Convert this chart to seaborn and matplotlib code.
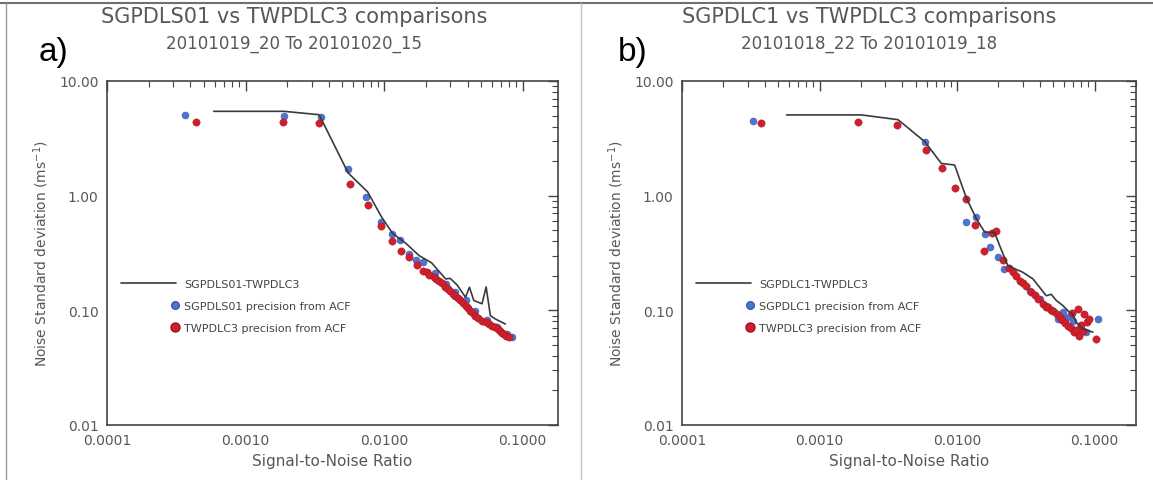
import numpy as np
import pandas as pd
import matplotlib
matplotlib.use("Agg")
import matplotlib.pyplot as plt
from matplotlib.lines import Line2D
from matplotlib.legend_handler import HandlerLine2D
from matplotlib.ticker import LogLocator, NullFormatter, FixedLocator, FixedFormatter
import seaborn as sns

# ---------------- data ----------------
# Panel a) SGPDLS01 vs TWPDLC3
a_line_x = [0.00059, 0.0019, 0.0034, 0.0055, 0.0076, 0.0096, 0.0115, 0.0145, 0.0179, 0.022,
            0.0278, 0.030, 0.0337, 0.0387, 0.0413, 0.0444, 0.0509, 0.0545, 0.0585, 0.0636, 0.075]
a_line_y = [5.44, 5.44, 5.08, 1.58, 1.08, 0.65, 0.47, 0.38, 0.30, 0.26,
            0.188, 0.19, 0.166, 0.130, 0.159, 0.122, 0.114, 0.16, 0.090, 0.084, 0.076]
a_blue_x = [0.000364, 0.0019, 0.0035, 0.00553, 0.00738, 0.00946, 0.0115, 0.0130, 0.0151, 0.0171,
            0.0192, 0.0235, 0.028, 0.0325, 0.0387, 0.045, 0.055, 0.065, 0.077, 0.0837]
a_blue_y = [5.06, 4.99, 4.89, 1.71, 0.98, 0.59, 0.46, 0.41, 0.31, 0.275,
            0.263, 0.21, 0.17, 0.145, 0.122, 0.098, 0.082, 0.072, 0.062, 0.058]
a_red_x = [0.000441, 0.00185, 0.0034, 0.00566, 0.00767, 0.00946, 0.0114, 0.0132, 0.0151, 0.0174,
           0.019, 0.0205, 0.021, 0.0229, 0.0238, 0.0249, 0.026, 0.0277, 0.0288, 0.030, 0.0315,
           0.0327, 0.034, 0.0356, 0.037, 0.0387, 0.040, 0.042, 0.0435, 0.0456, 0.048, 0.0509,
           0.054, 0.0569, 0.060, 0.0636, 0.066, 0.069, 0.071, 0.073, 0.076, 0.080]
a_red_y = [4.41, 4.36, 4.28, 1.26, 0.835, 0.54, 0.40, 0.33, 0.294, 0.249,
           0.222, 0.215, 0.205, 0.194, 0.188, 0.182, 0.172, 0.159, 0.152, 0.148, 0.140,
           0.134, 0.128, 0.122, 0.115, 0.109, 0.104, 0.0995, 0.095, 0.090, 0.086, 0.0813,
           0.079, 0.076, 0.073, 0.071, 0.069, 0.0666, 0.064, 0.062, 0.060, 0.059]

# Panel b) SGPDLC1 vs TWPDLC3
b_line_x = [0.000576, 0.00202, 0.00372, 0.00582, 0.00769, 0.0096, 0.0117, 0.0138, 0.0159, 0.0187,
            0.0204, 0.0234, 0.030, 0.0356, 0.0398, 0.0445, 0.0484, 0.0526, 0.0588, 0.0658,
            0.0695, 0.0735, 0.082, 0.0972]
b_line_y = [5.06, 5.06, 4.6, 2.96, 1.91, 1.85, 0.95, 0.63, 0.48, 0.48,
            0.367, 0.245, 0.215, 0.188, 0.159, 0.134, 0.138, 0.122, 0.110, 0.096,
            0.092, 0.0787, 0.0689, 0.0646]
b_blue_x = [0.000326, 0.00582, 0.0117, 0.0138, 0.0159, 0.0175, 0.0198, 0.0221, 0.0337, 0.040,
            0.0445, 0.050, 0.054, 0.0588, 0.062, 0.0658, 0.070, 0.078, 0.0869, 0.1057]
b_blue_y = [4.5, 2.93, 0.59, 0.65, 0.46, 0.355, 0.29, 0.229, 0.148, 0.125,
            0.110, 0.098, 0.084, 0.096, 0.085, 0.090, 0.080, 0.070, 0.0646, 0.084]
b_red_x = [0.000375, 0.0019, 0.00366, 0.0059, 0.00776, 0.0096, 0.0117, 0.0136, 0.0156, 0.0178,
           0.0193, 0.0216, 0.024, 0.0255, 0.027, 0.0285, 0.030, 0.0319, 0.0347, 0.037, 0.0389,
           0.0423, 0.044, 0.0459, 0.048, 0.050, 0.053, 0.0556, 0.058, 0.061, 0.0638, 0.067,
           0.069, 0.0714, 0.073, 0.0755, 0.0776, 0.080, 0.082, 0.0843, 0.088, 0.0918, 0.1028]
b_red_y = [4.31, 4.36, 4.13, 2.50, 1.75, 1.16, 0.935, 0.55, 0.33, 0.47,
           0.49, 0.275, 0.235, 0.215, 0.20, 0.182, 0.172, 0.164, 0.1435, 0.135, 0.1255,
           0.114, 0.108, 0.106, 0.100, 0.0995, 0.092, 0.087, 0.082, 0.078, 0.0736, 0.070,
           0.095, 0.0646, 0.068, 0.103, 0.060, 0.075, 0.066, 0.093, 0.079, 0.084, 0.056]

x_ticks = [0.0001, 0.001, 0.01, 0.1]
x_tick_labels = ["0.0001", "0.0010", "0.0100", "0.1000"]
y_ticks = [0.01, 0.1, 1.0, 10.0]
y_tick_labels = ["0.01", "0.10", "1.00", "10.00"]

panels = [
    dict(tag="a)", title="SGPDLS01 vs TWPDLC3 comparisons", sub="20101019_20 To 20101020_15",
         lx=a_line_x, ly=a_line_y, bx=a_blue_x, by=a_blue_y, rx=a_red_x, ry=a_red_y,
         lab_line="SGPDLS01-TWPDLC3", lab_blue="SGPDLS01 precision from ACF",
         lab_red="TWPDLC3 precision from ACF", xmax=0.18),
    dict(tag="b)", title="SGPDLC1 vs TWPDLC3 comparisons", sub="20101018_22 To 20101019_18",
         lx=b_line_x, ly=b_line_y, bx=b_blue_x, by=b_blue_y, rx=b_red_x, ry=b_red_y,
         lab_line="SGPDLC1-TWPDLC3", lab_blue="SGPDLC1 precision from ACF",
         lab_red="TWPDLC3 precision from ACF", xmax=0.2),
]

BLUE = "#4f73cf"
RED = "#d0202c"
LINE = "#3a3a3a"
TXT = "#585858"
AXC = "#444444"

sns.set_theme(style="white")
plt.rcParams["font.family"] = ["DejaVu Sans"]

fig = plt.figure(figsize=(11.53, 4.81), dpi=100)

W, H = 1153.0, 481.0
axes_px = [(107, 558), (682, 1136)]
title_cx = [294, 869]
tag_x = [53, 633]


class RightMarkerHandler(HandlerLine2D):
    """Legend handler that puts a single marker at the right end of the handle box."""
    def get_xdata(self, legend, xdescent, ydescent, width, height, fontsize):
        xm = width * 0.98 - xdescent
        return np.array([xm - 1.0, xm + 1.0]), np.array([xm])


for i, p in enumerate(panels):
    x0, x1 = axes_px[i]
    ax = fig.add_axes([x0 / W, (H - 426) / H, (x1 - x0) / W, (426 - 82) / H])
    ax.set_xscale("log")
    ax.set_yscale("log")

    dl = pd.DataFrame({"x": p["lx"], "y": p["ly"]})
    db = pd.DataFrame({"x": p["bx"], "y": p["by"]})
    dr = pd.DataFrame({"x": p["rx"], "y": p["ry"]})

    sns.scatterplot(data=db, x="x", y="y", ax=ax, color=BLUE, s=26, linewidth=0.3,
                    edgecolor="#3a5ab0", zorder=2, legend=False)
    sns.scatterplot(data=dr, x="x", y="y", ax=ax, color=RED, s=28, linewidth=0.3,
                    edgecolor="#a01020", zorder=3, legend=False)
    sns.lineplot(data=dl, x="x", y="y", ax=ax, sort=False, estimator=None,
                 color=LINE, linewidth=1.2, zorder=4, legend=False)

    ax.set_xlim(1e-4, p["xmax"])
    ax.set_ylim(0.01, 10)

    ax.xaxis.set_major_locator(FixedLocator(x_ticks))
    ax.xaxis.set_major_formatter(FixedFormatter(x_tick_labels))
    ax.yaxis.set_major_locator(FixedLocator(y_ticks))
    ax.yaxis.set_major_formatter(FixedFormatter(y_tick_labels))
    ax.xaxis.set_minor_locator(LogLocator(base=10, subs=np.arange(2, 10), numticks=20))
    ax.yaxis.set_minor_locator(LogLocator(base=10, subs=np.arange(2, 10), numticks=20))
    ax.xaxis.set_minor_formatter(NullFormatter())
    ax.yaxis.set_minor_formatter(NullFormatter())
    ax.tick_params(which="both", direction="in", top=True, right=True, colors=AXC,
                   labelcolor=TXT, labelsize=10)
    ax.tick_params(which="major", length=7, width=1.0, pad=6)
    ax.tick_params(which="minor", length=4, width=0.8)
    for sp in ax.spines.values():
        sp.set_color(AXC)
        sp.set_linewidth(1.2)
    ax.grid(False)

    ax.set_xlabel("Signal-to-Noise Ratio", color=TXT, fontsize=11, labelpad=4)
    ax.set_ylabel("Noise Standard deviation (ms$^{-1}$)", color=TXT, fontsize=10, labelpad=6)

    h_line = Line2D([], [], color=LINE, linewidth=1.2)
    h_blue = Line2D([], [], linestyle="none", marker="o", markersize=5.5,
                    markerfacecolor=BLUE, markeredgecolor="#3a5ab0")
    h_red = Line2D([], [], linestyle="none", marker="o", markersize=6.5,
                   markerfacecolor=RED, markeredgecolor="#a01020")
    leg = ax.legend([h_line, h_blue, h_red], [p["lab_line"], p["lab_blue"], p["lab_red"]],
                    loc="upper left", bbox_to_anchor=(0.03, 0.425), frameon=False,
                    fontsize=8, handlelength=5.0, handletextpad=0.7, labelspacing=1.1,
                    borderpad=0, borderaxespad=0, numpoints=1,
                    handler_map={h_blue: RightMarkerHandler(), h_red: RightMarkerHandler()})
    for t in leg.get_texts():
        t.set_color("#444444")

    fig.text(title_cx[i] / W, 1 - 17 / H, p["title"], ha="center", va="center",
             fontsize=15, color=TXT)
    fig.text(title_cx[i] / W, 1 - 44 / H, p["sub"], ha="center", va="center",
             fontsize=12, color=TXT)
    fig.text(tag_x[i] / W, 1 - 53 / H, p["tag"], ha="center", va="center",
             fontsize=24, color="black", family=["Liberation Sans", "DejaVu Sans"])

# panel frames (screenshot borders)
fig.add_artist(Line2D([0, 1], [1 - 4 / H, 1 - 4 / H], transform=fig.transFigure,
                      color="#707070", linewidth=1.5))
fig.add_artist(Line2D([6 / W, 6 / W], [0, 1 - 4 / H], transform=fig.transFigure,
                      color="#9a9a9a", linewidth=1.0))
fig.add_artist(Line2D([581 / W, 581 / W], [0, 1 - 4 / H], transform=fig.transFigure,
                      color="#c4c4c4", linewidth=1.0))

fig.savefig("out.png", dpi=100, facecolor="white")
